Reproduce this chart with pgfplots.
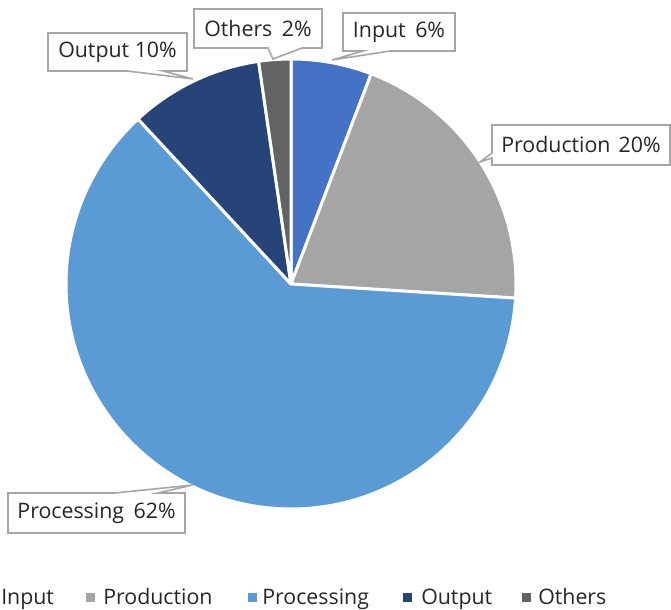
\documentclass[border=0pt]{standalone}
\usepackage{fontspec}
\setmainfont{Open Sans}
\usepackage{pgfplots}
\usepackage{pgfplotstable}
\pgfplotsset{compat=1.18}
\definecolor{cInput}{HTML}{4472C4}
\definecolor{cProd}{HTML}{A5A5A5}
\definecolor{cProc}{HTML}{5B9BD5}
\definecolor{cOut}{HTML}{264478}
\definecolor{cOth}{HTML}{636363}
\definecolor{cBox}{HTML}{A6A6A6}
\definecolor{cTxt}{HTML}{262626}

\pgfplotstableread{
label value color
Input 5.8 cInput
Production 20.2 cProd
Processing 62.1 cProc
Output 9.6 cOut
Others 2.3 cOth
}\piedata

\begin{document}
\begin{tikzpicture}[font=\fontsize{16}{19}\selectfont]
\useasboundingbox (0,0) rectangle (503.25pt,457.5pt);
\begin{axis}[x=0.75pt, y=0.75pt, xmin=0, xmax=671, ymin=0, ymax=610,
  axis lines=none, clip=false, anchor=origin, at={(0,0)}]
\pgfmathsetmacro\startangle{90}
\pgfplotsforeachungrouped \i in {0,...,4}{%
  \pgfplotstablegetelem{\i}{value}\of\piedata
  \let\sliceval=\pgfplotsretval
  \pgfplotstablegetelem{\i}{color}\of\piedata
  \let\slicecolor=\pgfplotsretval
  \pgfmathsetmacro\endangle{\startangle-3.6*\sliceval}
  \edef\temp{\noexpand\fill[fill=\slicecolor, draw=white, line width=2.25pt, line join=round]
    (axis cs:291,326) -- ++(\startangle:168.75pt)
    arc[start angle=\startangle, end angle=\endangle, radius=168.75pt] -- cycle;}
  \temp
  \global\let\startangle\endangle
}
% callouts
\draw[cBox, line width=1.2pt, fill=white, line join=miter]
  (axis cs:48,577) -- (axis cs:187,577) -- (axis cs:187,539) -- (axis cs:163,539)
  -- (axis cs:193,531) -- (axis cs:127,539) -- (axis cs:48,539) -- cycle;
\node[text=cTxt, inner sep=0] at (axis cs:117.5,558) {Output 10\%};
\draw[cBox, line width=1.2pt, fill=white]
  (axis cs:194,601) -- (axis cs:322,601) -- (axis cs:322,562) -- (axis cs:302,562)
  -- (axis cs:273,551) -- (axis cs:268,562) -- (axis cs:194,562) -- cycle;
\node[text=cTxt, inner sep=0] at (axis cs:258,581.5) {Others\hspace{3pt} 2\%};
\draw[cBox, line width=1.2pt, fill=white]
  (axis cs:343,597) -- (axis cs:455,597) -- (axis cs:455,559) -- (axis cs:390,559)
  -- (axis cs:332,550) -- (axis cs:363,559) -- (axis cs:343,559) -- cycle;
\node[text=cTxt, inner sep=0] at (axis cs:399,578) {Input\hspace{3pt} 6\%};
\draw[cBox, line width=1.2pt, fill=white]
  (axis cs:492,485) -- (axis cs:670,485) -- (axis cs:670,445) -- (axis cs:492,445)
  -- (axis cs:492,452) -- (axis cs:480,448) -- (axis cs:492,457) -- cycle;
\node[text=cTxt, inner sep=0] at (axis cs:581,465) {Production\hspace{2pt} 20\%};
\draw[cBox, line width=1.2pt, fill=white]
  (axis cs:8,117) -- (axis cs:115,117) -- (axis cs:193,125) -- (axis cs:158,117)
  -- (axis cs:185,117) -- (axis cs:185,77) -- (axis cs:8,77) -- cycle;
\node[text=cTxt, inner sep=0] at (axis cs:96.5,97) {Processing\hspace{3pt} 62\%};
% legend
\fill[cInput] (axis cs:-17,8) rectangle (axis cs:-8,17);
\node[anchor=base west, inner sep=0, text=cTxt] at (axis cs:1,5) {Input};
\fill[cProd] (axis cs:86,8) rectangle (axis cs:95,17);
\node[anchor=base west, inner sep=0, text=cTxt] at (axis cs:103,5) {Production};
\fill[cProc] (axis cs:248,8) rectangle (axis cs:257,17);
\node[anchor=base west, inner sep=0, text=cTxt] at (axis cs:262,5) {Processing};
\fill[cOut] (axis cs:403,8) rectangle (axis cs:412,17);
\node[anchor=base west, inner sep=0, text=cTxt] at (axis cs:421,5) {Output};
\fill[cOth] (axis cs:522,8) rectangle (axis cs:531,17);
\node[anchor=base west, inner sep=0, text=cTxt] at (axis cs:538,5) {Others};
\end{axis}
\end{tikzpicture}
\end{document}
